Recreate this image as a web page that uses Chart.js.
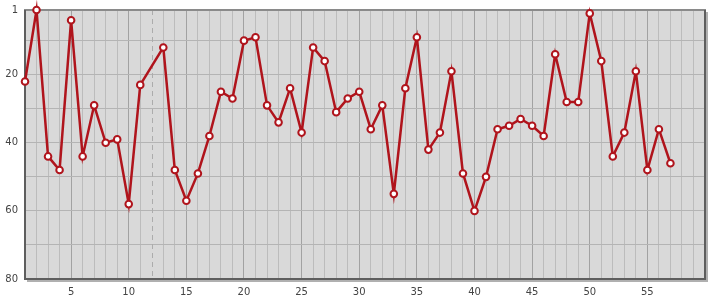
<!DOCTYPE html>
<html>
<head>
<meta charset="utf-8">
<script src="https://cdn.jsdelivr.net/npm/chart.js@4/dist/chart.umd.min.js"></script>
<style>
html,body{margin:0;padding:0;background:#fff;}
#wrap{width:715px;height:300px;}
</style>
</head>
<body>
<div id="wrap"><canvas id="c" width="715" height="300"></canvas></div>
<script>
const xValues = [1,2,3,4,5,6,7,8,9,10,11,12,13,14,15,16,17,18,19,20,21,22,23,24,25,26,27,28,29,30,31,32,33,34,35,36,37,38,39,40,41,42,43,44,45,46,47,48,49,50,51,52,53,54,55,56,57];
const yValues = [22,1,44,48,4,44,29,40,39,58,23,null,12,48,57,49,38,25,27,10,9,29,34,24,37,12,16,31,27,25,36,29,55,24,9,42,37,19,49,60,50,36,35,33,35,38,14,28,28,2,16,44,37,19,48,36,46];
const xTickLabels = [5,10,15,20,25,30,35,40,45,50,55];
const yTickLabels = [1,20,40,60,80];
const yGridValues = [1,10,20,30,40,50,60,70,80];
const markerX = 12;

const framePlugin = {
  id: 'frame',
  beforeDatasetsDraw(chart) {
    const {ctx, chartArea: a, scales} = chart;
    ctx.save();
    const mx = Math.round(scales.x.getPixelForValue(markerX)) + 0.5;
    ctx.strokeStyle = '#acacac';
    ctx.lineWidth = 1;
    ctx.setLineDash([5,4]);
    ctx.beginPath(); ctx.moveTo(mx, a.top); ctx.lineTo(mx, a.bottom); ctx.stroke();
    ctx.setLineDash([]);
    ctx.strokeStyle = '#b0b0b0';
    ctx.lineWidth = 2;
    ctx.beginPath();
    ctx.moveTo(a.right + 2, a.top + 2); ctx.lineTo(a.right + 2, a.bottom + 2); ctx.lineTo(a.left + 2, a.bottom + 2);
    ctx.stroke();
    ctx.strokeStyle = '#8a8a8a';
    ctx.beginPath(); ctx.moveTo(a.left - 1, a.top); ctx.lineTo(a.right + 1, a.top); ctx.stroke();
    ctx.strokeStyle = '#5e5e5e';
    ctx.beginPath();
    ctx.moveTo(a.left, a.top); ctx.lineTo(a.left, a.bottom + 1);
    ctx.moveTo(a.right, a.top); ctx.lineTo(a.right, a.bottom + 1);
    ctx.moveTo(a.left - 1, a.bottom); ctx.lineTo(a.right + 1, a.bottom);
    ctx.stroke();
    ctx.restore();
  }
};

const bgPlugin = {
  id: 'bg',
  beforeDraw(chart) {
    const {ctx, chartArea: a} = chart;
    ctx.save();
    ctx.fillStyle = '#d9d9d9';
    ctx.fillRect(a.left, a.top, a.right - a.left, a.bottom - a.top);
    ctx.restore();
  }
};

new Chart(document.getElementById('c'), {
  type: 'line',
  data: {
    datasets: [{
      data: xValues.map((x, i) => ({x: x, y: yValues[i]})),
      borderColor: '#b0141c',
      borderWidth: 2.5,
      pointRadius: 3.3,
      pointBorderWidth: 2,
      pointBackgroundColor: '#ffffff',
      pointBorderColor: '#b0141c',
      spanGaps: true,
      tension: 0,
      clip: false
    }]
  },
  options: {
    responsive: false,
    animation: false,
    layout: {padding: {top: 10, right: 10, left: 0, bottom: 0}},
    plugins: {legend: {display: false}, tooltip: {enabled: false}},
    scales: {
      x: {
        type: 'linear',
        min: 1, max: 60,
        afterBuildTicks(s) {
          const t = [];
          for (let v = 1; v <= 60; v++) t.push({value: v});
          s.ticks = t;
        },
        afterFit(s) { s.height = 21; s.paddingLeft = 0; s.paddingRight = 0; },
        ticks: {
          autoSkip: false, maxRotation: 0, padding: 7,
          color: '#444',
          font: {family: 'DejaVu Sans', size: 10},
          callback: (v) => xTickLabels.includes(v) ? String(v) : ''
        },
        grid: {
          drawTicks: false,
          lineWidth: 1,
          color: (c) => {
            const v = c.tick && c.tick.value;
            if (v === 1 || v === 60 || v === markerX) return 'rgba(0,0,0,0)';
            return v % 5 === 0 ? '#a2a2a2' : '#bcbcbc';
          }
        },
        border: {display: false}
      },
      y: {
        type: 'linear',
        reverse: true,
        min: 1, max: 80,
        afterBuildTicks(s) { s.ticks = yGridValues.map(v => ({value: v})); },
        afterFit(s) { s.width = 25; s.paddingTop = 0; s.paddingBottom = 0; },
        ticks: {
          autoSkip: false, padding: 7,
          color: '#444',
          font: {family: 'DejaVu Sans', size: 10},
          callback: (v) => yTickLabels.includes(v) ? String(v) : ''
        },
        grid: {
          drawTicks: false,
          lineWidth: 1,
          color: (c) => {
            const v = c.tick && c.tick.value;
            if (v === 1 || v === 80) return 'rgba(0,0,0,0)';
            return '#b4b4b4';
          }
        },
        border: {display: false}
      }
    }
  },
  plugins: [bgPlugin, framePlugin]
});
</script>
</body>
</html>
